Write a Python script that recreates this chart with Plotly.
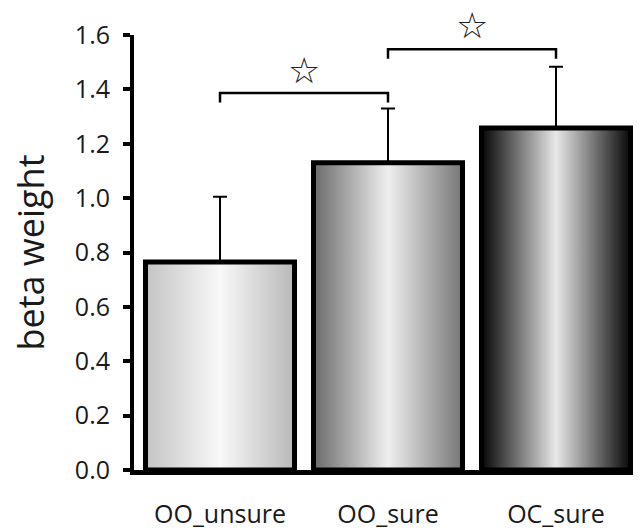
import plotly.graph_objects as go

categories = ["OO_unsure", "OO_sure", "OC_sure"]
beta_values = [0.765, 1.13, 1.258]
error_up = [0.24, 0.20, 0.225]
y_ticks = [0.0, 0.2, 0.4, 0.6, 0.8, 1.0, 1.2, 1.4, 1.6]
y_title = "beta weight"

# significance brackets: (left category index, right category index, height)
bracket_pairs = [(0, 1), (1, 2)]
bracket_heights = [1.387, 1.548]
star_heights = [1.47, 1.634]

# gradient colours per bar: left edge, centre highlight, right edge
grad_left = ["#c4c4c4", "#6a6a6a", "#050505"]
grad_mid = ["#f8f8f8", "#efefef", "#e8e8e8"]
grad_right = ["#b8b8b8", "#767676", "#080808"]

BAR_W = 0.887
LEG = 0.035
xs = list(range(len(categories)))
x_range = [-0.512, 2.506]
y_range = [0, 1.6]

fig = go.Figure()

# gradient fills (main axes, drawn underneath)
for i, v in enumerate(beta_values):
    x0, x1 = xs[i] - BAR_W / 2, xs[i] + BAR_W / 2
    fig.add_trace(go.Scatter(
        x=[x0, x0, x1, x1, x0], y=[0, v, v, 0, 0],
        mode="lines", fill="toself", line=dict(width=0),
        fillgradient=dict(type="horizontal",
                          colorscale=[[0, grad_left[i]], [0.5, grad_mid[i]], [1, grad_right[i]]]),
        hoverinfo="skip", showlegend=False, xaxis="x", yaxis="y"))

# bar outlines + error bars (overlay axes, drawn on top)
fig.add_trace(go.Bar(
    x=xs, y=beta_values, width=BAR_W,
    marker=dict(color="rgba(0,0,0,0)", line=dict(color="black", width=5)),
    error_y=dict(type="data", array=error_up, arrayminus=[0] * len(error_up),
                 symmetric=False, color="black", thickness=2, width=7),
    showlegend=False, xaxis="x2", yaxis="y2"))

# significance brackets
for (a, b), h in zip(bracket_pairs, bracket_heights):
    fig.add_trace(go.Scatter(
        x=[xs[a], xs[a], xs[b], xs[b]], y=[h - LEG, h, h, h - LEG],
        mode="lines", line=dict(color="black", width=2.5),
        showlegend=False, hoverinfo="skip", xaxis="x2", yaxis="y2", cliponaxis=False))

# stars (annotations in axis-domain units so they may sit above the range)
for (a, b), sh in zip(bracket_pairs, star_heights):
    fig.add_annotation(x=(xs[a] + xs[b]) / 2, y=sh / y_range[1], xref="x", yref="y domain",
                       xanchor="center", yanchor="middle",
                       text="☆", showarrow=False,
                       font=dict(size=36, family="DejaVu Sans", color="#222222"))

FONT = "Open Sans"

# y-axis title placed as a rotated annotation
fig.add_annotation(x=-0.205, y=0.5, xref="paper", yref="paper",
                   xanchor="center", yanchor="middle", textangle=-90,
                   text=y_title, showarrow=False,
                   font=dict(size=36, family=FONT, color="#1a1a1a"))

fig.update_layout(
    width=633, height=523,
    margin=dict(l=126, r=0, t=27, b=61),
    plot_bgcolor="white", paper_bgcolor="white",
    font=dict(family=FONT, color="#1a1a1a"),
    xaxis=dict(range=x_range, tickvals=xs, ticktext=categories, showgrid=False,
               zeroline=False, showline=True, linecolor="black", linewidth=5,
               ticks="", tickfont=dict(size=25, family=FONT), ticklabelstandoff=18,
               automargin=False),
    yaxis=dict(range=y_range, tickvals=y_ticks, tickformat=".1f", showgrid=False,
               zeroline=False, showline=True, linecolor="black", linewidth=4,
               ticks="outside", ticklen=7, tickwidth=4, tickcolor="black",
               tickfont=dict(size=25, family=FONT), ticklabelstandoff=8,
               automargin=False),
    xaxis2=dict(range=x_range, overlaying="x", visible=False),
    yaxis2=dict(range=y_range, overlaying="y", visible=False),
)

fig.write_html("out.html")
